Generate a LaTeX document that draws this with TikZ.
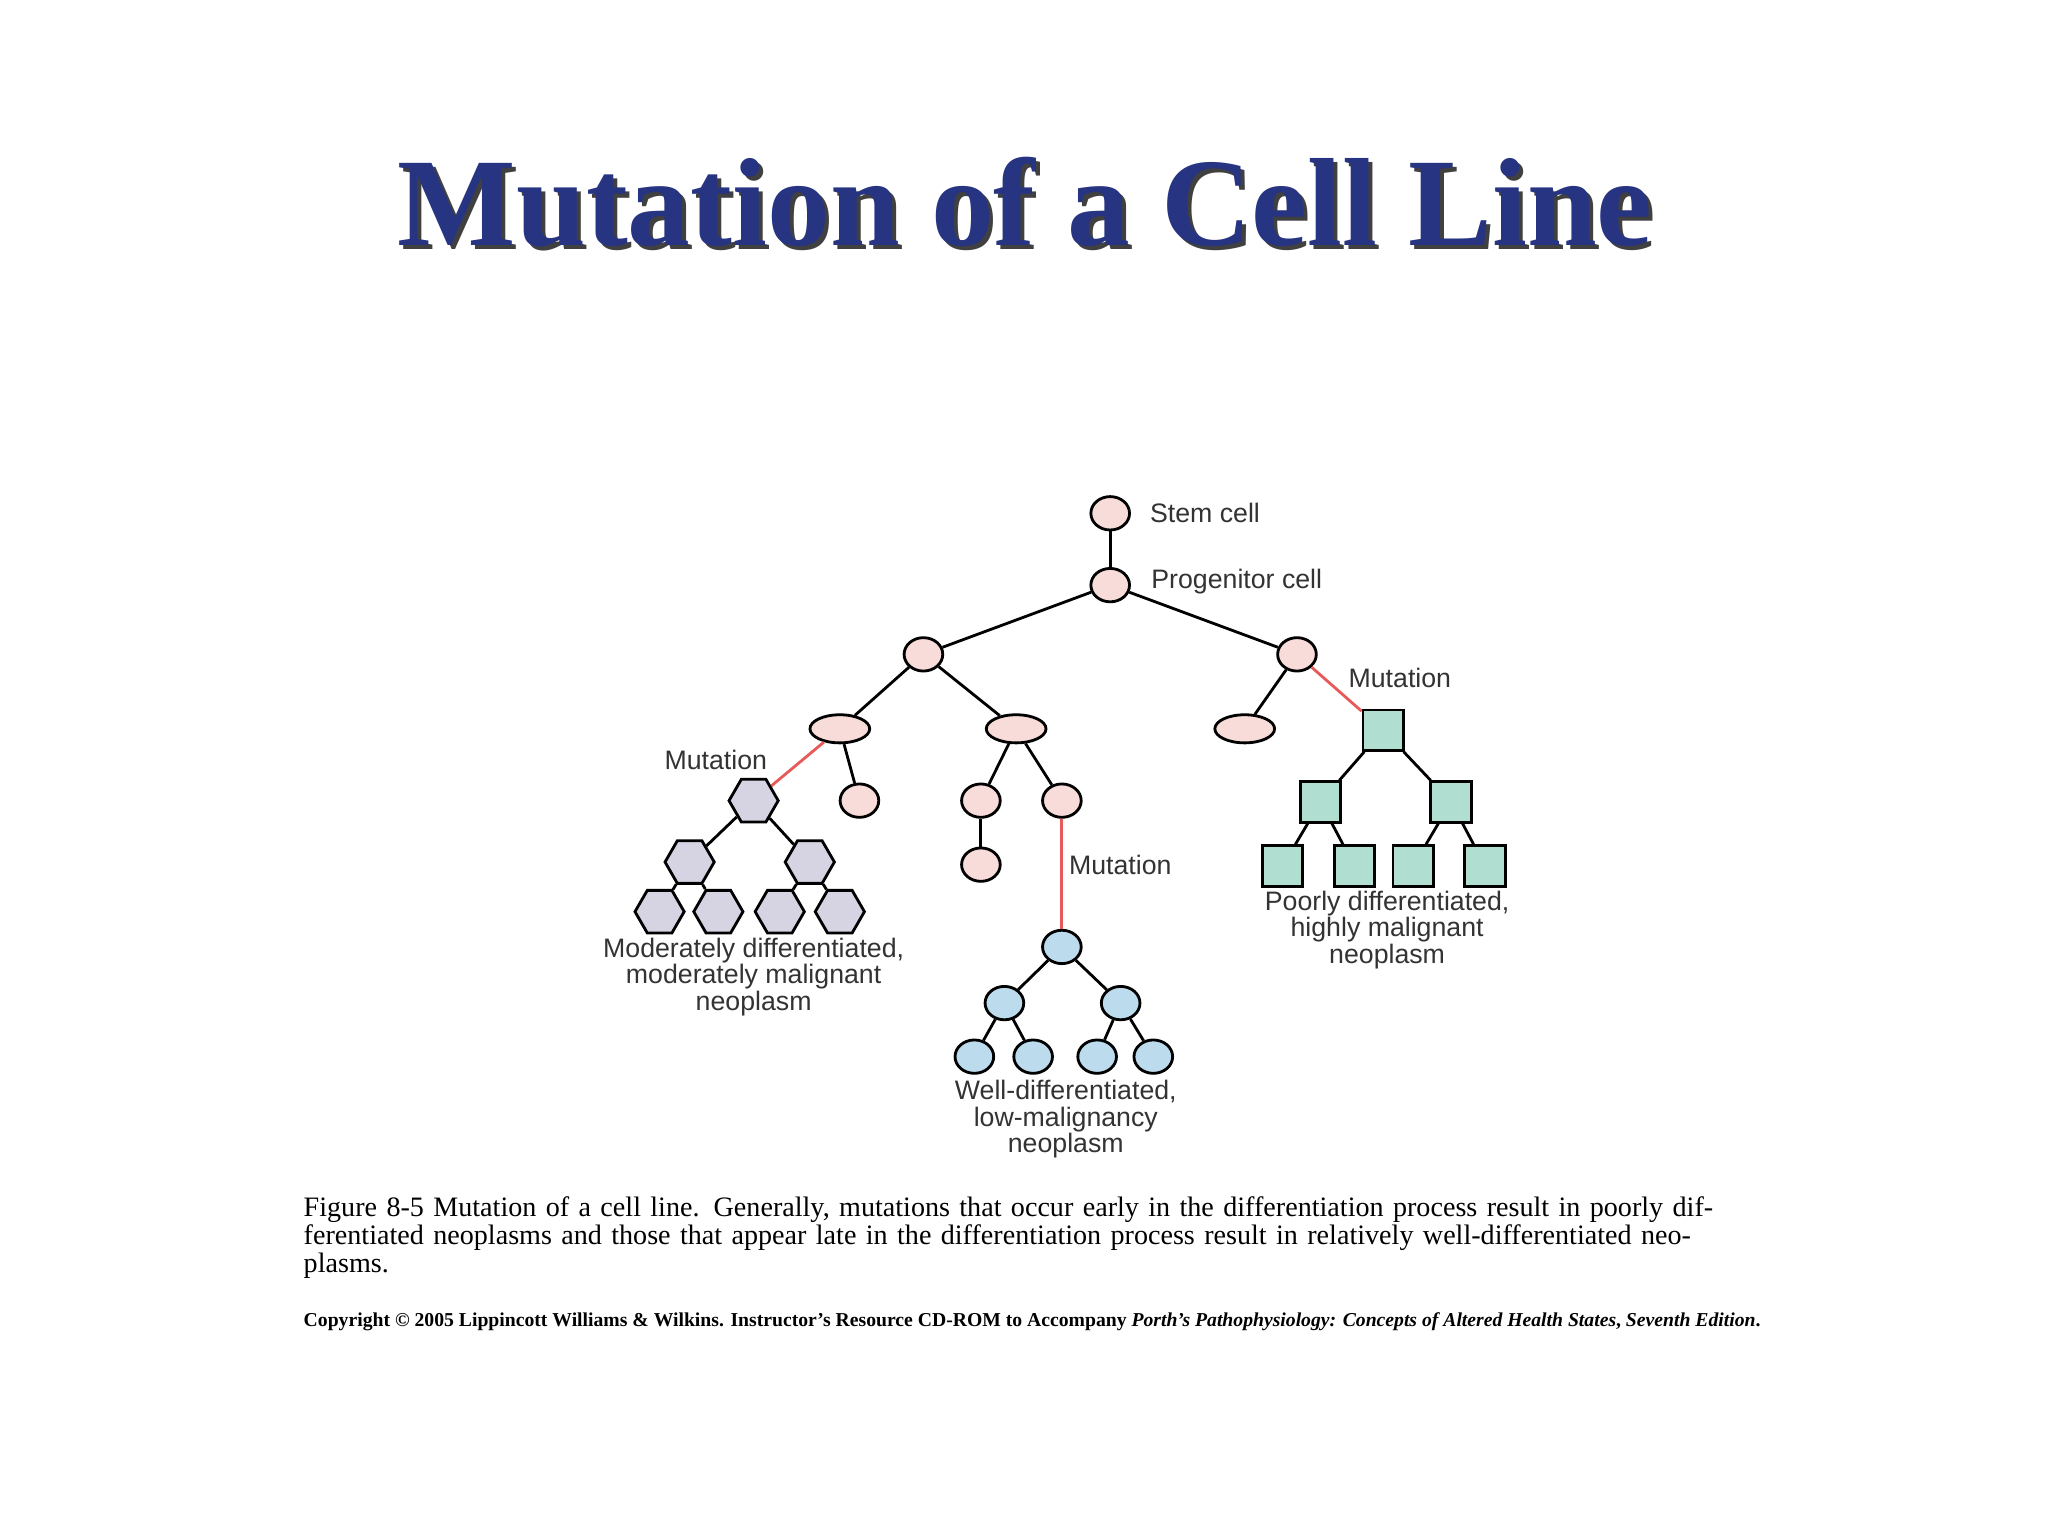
\documentclass[tikz,border=0pt]{standalone}
\usepackage{fontspec}
\setmainfont{Liberation Serif}
\newfontfamily\lab{Liberation Sans}
\usetikzlibrary{shapes.geometric}
\definecolor{ttl}{RGB}{38,52,130}
\definecolor{pinkc}{RGB}{248,220,218}
\definecolor{greyc}{RGB}{214,212,226}
\definecolor{bluec}{RGB}{188,220,238}
\definecolor{tealc}{RGB}{176,222,208}
\definecolor{mut}{RGB}{232,90,90}
\begin{document}
\begin{tikzpicture}[x=0.01306cm,y=-0.01306cm,
 cell/.style={draw,line width=0.8pt,ellipse,minimum width=11pt,minimum height=9.5pt,inner sep=0pt},
 pk/.style={cell,fill=pinkc},
 pkw/.style={pk,minimum width=17pt,minimum height=8pt},
 bl/.style={cell,fill=bluec},
 hx/.style={draw,line width=0.8pt,regular polygon,regular polygon sides=6,minimum size=14pt,inner sep=0pt,fill=greyc},
 sq/.style={draw,line width=0.8pt,rectangle,minimum size=11.5pt,inner sep=0pt,fill=tealc},
 ln/.style={line width=0.8pt},
 ml/.style={line width=0.8pt,mut},
 lb/.style={font=\lab\fontsize{7.6}{7.5}\selectfont,text=black!80,align=center,inner sep=0pt}]
\useasboundingbox (0,0) rectangle (1568,1176);
\fill[white] (0,0) rectangle (1568,1176);
% title
\node[text=black!75,font=\fontsize{35.7}{40}\bfseries\selectfont,inner sep=0pt] (ts) at (788,158) {Mutation of a Cell Line};
\node[text=ttl,font=\fontsize{35.7}{40}\bfseries\selectfont,inner sep=0pt] (t) at (785,155) {Mutation of a Cell Line};
% nodes
\node[pk] (s) at (850,393) {};
\node[pk] (p) at (850,448) {};
\node[pk] (l1) at (707,501) {};
\node[pk] (r1) at (993,501) {};
\node[pkw] (ll) at (643,558) {};
\node[pkw] (lr) at (778,558) {};
\node[pkw] (rl) at (953,558) {};
\node[sq] (rr) at (1059,559) {};
\node[hx] (g) at (577,613) {};
\node[pk] (llb) at (658,613) {};
\node[pk] (lra) at (751,613) {};
\node[pk] (lrb) at (813,613) {};
\node[pk] (lrc) at (751,662) {};
\node[bl] (b) at (813,725) {};
\node[hx] (g1) at (528,660) {};
\node[hx] (g2) at (620,660) {};
\node[hx] (g11) at (505,698) {};
\node[hx] (g12) at (550,698) {};
\node[hx] (g21) at (597,698) {};
\node[hx] (g22) at (643,698) {};
\node[bl] (b1) at (769,768) {};
\node[bl] (b2) at (858,768) {};
\node[bl] (b11) at (746,809) {};
\node[bl] (b12) at (791,809) {};
\node[bl] (b21) at (840,809) {};
\node[bl] (b22) at (883,809) {};
\node[sq] (q1) at (1011,614) {};
\node[sq] (q2) at (1111,614) {};
\node[sq] (q11) at (982,663) {};
\node[sq] (q12) at (1037,663) {};
\node[sq] (q21) at (1082,663) {};
\node[sq] (q22) at (1137,663) {};
% edges
\draw[ln] (s)--(p); \draw[ln] (p)--(l1); \draw[ln] (p)--(r1);
\draw[ln] (l1)--(ll); \draw[ln] (l1)--(lr); \draw[ln] (r1)--(rl);
\draw[ml] (r1)--(rr); \draw[ml] (ll)--(g); \draw[ln] (ll)--(llb);
\draw[ln] (lr)--(lra); \draw[ln] (lr)--(lrb); \draw[ln] (lra)--(lrc);
\draw[ml] (lrb)--(b);
\draw[ln] (g)--(g1); \draw[ln] (g)--(g2);
\draw[ln] (g1)--(g11); \draw[ln] (g1)--(g12); \draw[ln] (g2)--(g21); \draw[ln] (g2)--(g22);
\draw[ln] (b)--(b1); \draw[ln] (b)--(b2);
\draw[ln] (b1)--(b11); \draw[ln] (b1)--(b12); \draw[ln] (b2)--(b21); \draw[ln] (b2)--(b22);
\draw[ln] (rr)--(q1); \draw[ln] (rr)--(q2);
\draw[ln] (q1)--(q11); \draw[ln] (q1)--(q12); \draw[ln] (q2)--(q21); \draw[ln] (q2)--(q22);
% labels
\node[lb,anchor=west] (ls) at (880,393) {Stem cell};
\node[lb,anchor=west] (lp) at (881,445) {Progenitor cell};
\node[lb,anchor=west] (m1) at (1032,519) {Mutation};
\node[lb] (m2) at (548,582) {Mutation};
\node[lb,anchor=west] (m3) at (818,662) {Mutation};
\node[lb] (t1) at (577,748) {Moderately differentiated,\\moderately malignant\\neoplasm};
\node[lb] (t2) at (816,857) {Well-differentiated,\\low-malignancy\\neoplasm};
\node[lb] (t3) at (1062,712) {Poorly differentiated,\\highly malignant\\neoplasm};
% caption
\node[anchor=north west,inner sep=0pt,align=left,text width=409pt,font=\fontsize{8}{7.9}\selectfont] (cap) at (232,916)
 {Figure 8-5 Mutation of a cell line. Generally, mutations that occur early in the differentiation process result in poorly differentiated neoplasms and those that appear late in the differentiation process result in relatively well-differentiated neoplasms.};
\node[anchor=west,inner sep=0pt,font=\fontsize{5.6}{6}\bfseries\selectfont] (cp) at (232,1012)
 {Copyright \textcopyright{} 2005 Lippincott Williams \& Wilkins. Instructor's Resource CD-ROM to Accompany \textit{Porth's Pathophysiology: Concepts of Altered Health States}, \textit{Seventh Edition}.};
\end{tikzpicture}
\end{document}
